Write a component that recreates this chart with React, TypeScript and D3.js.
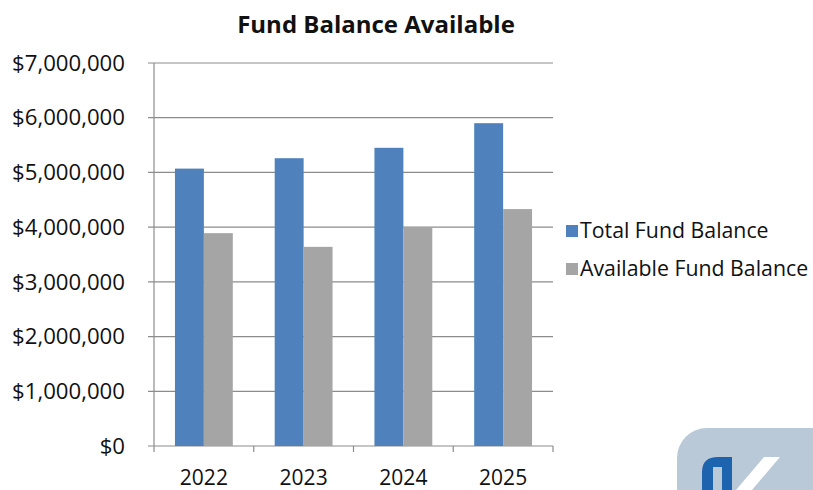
import * as d3 from 'd3';
import * as React from 'react';

const years = ['2022', '2023', '2024', '2025'];
const seriesNames = ['Total Fund Balance', 'Available Fund Balance'];
const totalFund = [5070000, 5260000, 5450000, 5900000];
const availableFund = [3890000, 3640000, 4000000, 4330000];
const yTicks = [0, 1000000, 2000000, 3000000, 4000000, 5000000, 6000000, 7000000];

const colors = ['#4f81bd', '#a5a5a5'];
const font = "'Open Sans', sans-serif";

const W = 813;
const H = 490;
const plot = { left: 154, right: 553, top: 63, bottom: 446 };

const App = () => {
  const x = d3.scaleBand<string>()
    .domain(years)
    .range([plot.left, plot.right])
    .paddingInner(0.42)
    .paddingOuter(0.21);
  const inner = d3.scaleBand<number>()
    .domain([0, 1])
    .range([0, x.bandwidth()]);
  const y = d3.scaleLinear().domain([0, 7000000]).range([plot.bottom, plot.top]);
  const fmt = (v: number) => '$' + d3.format(',')(v);
  const step = x.step();
  const series = [totalFund, availableFund];

  return (
    <svg width={W} height={H} style={{ position: 'absolute', left: 0, top: 0, background: '#fff' }}>
      <text x={376} y={33} textAnchor='middle' fontFamily={font} fontWeight={700}
        fontSize={24} fill='#111'>Fund Balance Available</text>

      {yTicks.map((t) => (
        <g key={t}>
          <line x1={plot.left - 6} x2={plot.right} y1={y(t)} y2={y(t)} stroke='#8c8c8c' strokeWidth={1.2} />
          <text x={125} y={y(t)} dy='0.35em' textAnchor='end' fontFamily={font}
            fontSize={22.2} fill='#111'>{fmt(t)}</text>
        </g>
      ))}
      <line x1={plot.left} x2={plot.left} y1={plot.top} y2={plot.bottom + 6} stroke='#8c8c8c' strokeWidth={1.2} />

      {years.map((yr, i) => (
        <line key={'tk' + yr} x1={plot.left + step * (i + 1)} x2={plot.left + step * (i + 1)}
          y1={plot.bottom} y2={plot.bottom + 6} stroke='#8c8c8c' strokeWidth={1.2} />
      ))}

      {series.map((vals, s) => (
        <g key={'s' + s}>
          {vals.map((v, i) => (
            <rect key={years[i]} x={(x(years[i]) as number) + (inner(s) as number)} y={y(v)}
              width={inner.bandwidth()} height={plot.bottom - y(v)} fill={colors[s]} />
          ))}
        </g>
      ))}

      {years.map((yr) => (
        <text key={'xl' + yr} x={(x(yr) as number) + x.bandwidth() / 2} y={485} textAnchor='middle'
          fontFamily={font} fontSize={21} fill='#111'>{yr}</text>
      ))}

      {seriesNames.map((name, s) => (
        <g key={name} transform={`translate(566, ${225 + s * 38})`}>
          <rect x={0} y={0} width={12} height={12} fill={colors[s]} />
          <text x={14} y={6} dy='0.35em' fontFamily={font} fontSize={21.3} fill='#111'>{name}</text>
        </g>
      ))}

      <g>
        <rect x={677} y={428} width={180} height={120} rx={30} fill='#b9c9d7' />
        <path d='M702,490 L702,472 Q702,457 718,457 L732,457 L732,490 L722,490 L722,467 L713,467 L713,490 Z'
          fill='#1d63ad' />
        <path d='M736,490 L764,457 L780,457 L752,490 Z' fill='#ffffff' />
      </g>
    </svg>
  );
};

export default App;
